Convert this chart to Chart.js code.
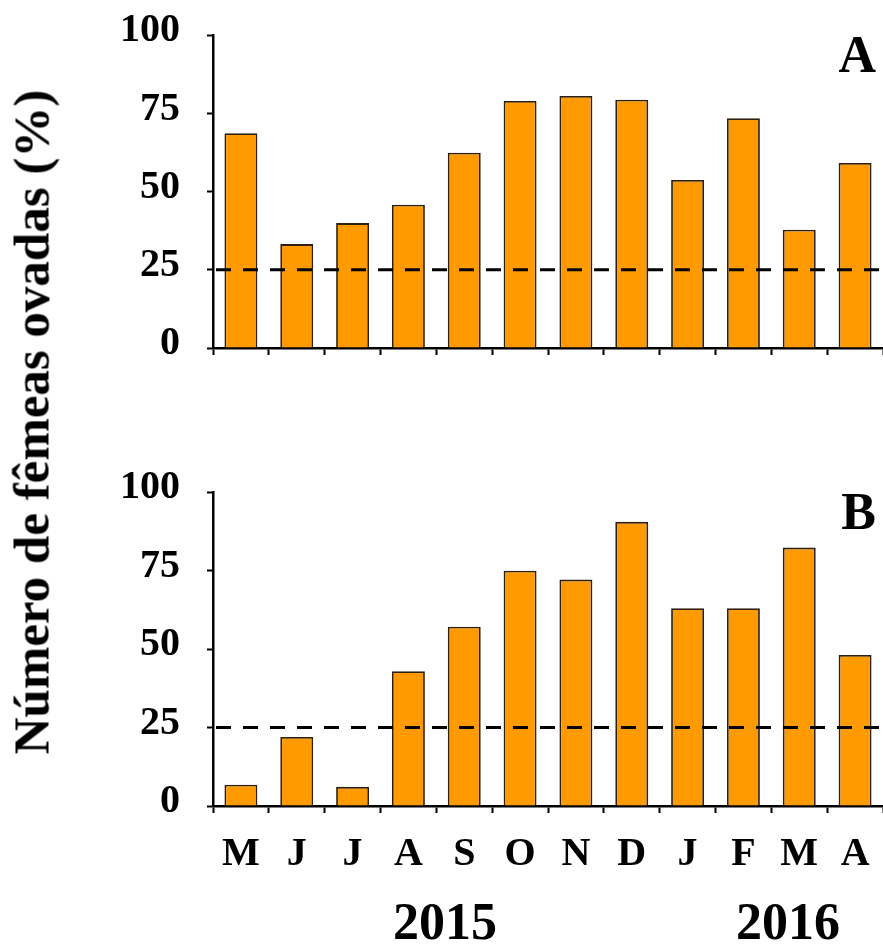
<!DOCTYPE html>
<html>
<head>
<meta charset="utf-8">
<script src="https://cdn.jsdelivr.net/npm/chart.js@4"></script>
<style>
	body { margin: 0; background: #fff; }
	#wrap { position: relative; width: 883px; height: 944px; overflow: hidden; font-family: 'Liberation Serif', 'Times New Roman', serif; }
	.box { position: absolute; left: 0; }
	.txt { position: absolute; font-weight: bold; white-space: nowrap; line-height: 1; color: #000; }
</style>
</head>
<body>
<div id="wrap">
	<div class="box" style="top:0"><canvas id="chartA" width="883" height="400"></canvas></div>
	<div class="box" style="top:440px"><canvas id="chartB" width="883" height="504"></canvas></div>
	<div class="txt" style="left:32px;top:422px;font-size:51px;transform:translate(-50%,-50%) rotate(-90deg)">Número de fêmeas ovadas (%)</div>
	<div class="txt" style="left:445px;top:922px;font-size:52px;transform:translate(-50%,-50%)">2015</div>
	<div class="txt" style="left:788px;top:922px;font-size:52px;transform:translate(-50%,-50%)">2016</div>
</div>
<script>
//months May 2015 - April 2016
let months = ['M', 'J', 'J', 'A', 'S', 'O', 'N', 'D', 'J', 'F', 'M', 'A']
//percent of ovigerous females
let panelA = [68.6, 33.2, 39.9, 45.8, 62.4, 78.9, 80.5, 79.3, 53.7, 73.4, 37.8, 59.1]
let panelB = [6.8, 22.0, 6.1, 42.9, 57.1, 74.9, 72.1, 90.5, 63.0, 63.0, 82.3, 48.1]
let yTicks = [0, 25, 50, 75, 100]
let threshold = 25 //dashed reference line

let serif = "'Liberation Serif', 'Times New Roman', serif"

//dashed line + panel letter
let extras = {
	id: 'extras',
	afterDatasetsDraw(chart, args, opts) {
		let ctx = chart.ctx
		let area = chart.chartArea
		let y = chart.scales.y.getPixelForValue(threshold)
		ctx.save()
		ctx.strokeStyle = '#000'
		ctx.lineWidth = 3
		ctx.setLineDash([15, 12])
		ctx.beginPath()
		ctx.moveTo(area.left + 3, y)
		ctx.lineTo(area.right, y)
		ctx.stroke()
		ctx.setLineDash([])
		ctx.fillStyle = '#000'
		ctx.font = 'bold 52px ' + serif
		ctx.textAlign = 'right'
		ctx.textBaseline = 'alphabetic'
		ctx.fillText(opts.letter, area.right - 7, area.top + 37)
		ctx.restore()
	}
}

function makeConfig(values, letter, top, xHeight, showLabels) {
	return {
		type: 'bar',
		data: {
			labels: months,
			datasets: [
				{
					data: values,
					backgroundColor: '#FF9A00',
					borderColor: '#2e2010',
					borderWidth: 1.8,
					barPercentage: 0.59,
					categoryPercentage: 1
				}
			]
		},
		options: {
			responsive: false,
			animation: false,
			layout: { padding: { top: top, left: 0, right: 0, bottom: 0 } },
			plugins: {
				legend: { display: false },
				tooltip: { enabled: false },
				extras: { letter: letter }
			},
			scales: {
				x: {
					grid: { drawOnChartArea: false, drawTicks: true, tickLength: 7, tickWidth: 2, tickColor: '#000', offset: true },
					border: { display: true, color: '#000', width: 2.5 },
					ticks: {
						display: showLabels,
						color: '#000',
						font: { family: serif, size: 40, weight: 'bold' },
						padding: 18,
						maxRotation: 0,
						autoSkip: false
					},
					afterFit: (scale) => {
						scale.height = xHeight
						scale.paddingLeft = 0
						scale.paddingRight = 0
					}
				},
				y: {
					min: 0,
					max: 100,
					afterBuildTicks: (scale) => { scale.ticks = yTicks.map((v) => ({ value: v })) },
					grid: { drawOnChartArea: false, drawTicks: true, tickLength: 6, tickWidth: 2, tickColor: '#000' },
					border: { display: true, color: '#000', width: 2.5 },
					ticks: {
						color: '#000',
						font: { family: serif, size: 40, weight: 'bold' },
						padding: 27,
						labelOffset: -4
					},
					afterFit: (scale) => {
						scale.width = 213
						scale.paddingTop = 0
						scale.paddingBottom = 0
					}
				}
			}
		},
		plugins: [extras]
	}
}

let chartA = new Chart(document.getElementById('chartA'), makeConfig(panelA, 'A', 35, 52, false))
let chartB = new Chart(document.getElementById('chartB'), makeConfig(panelB, 'B', 52, 138, true))
</script>
</body>
</html>
